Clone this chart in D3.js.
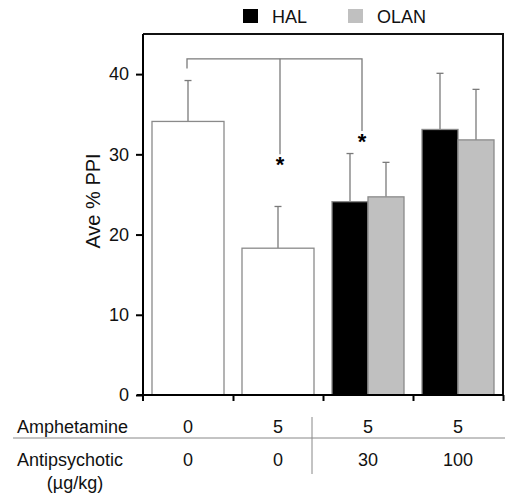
<!DOCTYPE html>
<html>
<head>
<meta charset="utf-8">
<script src="https://cdn.jsdelivr.net/npm/d3@7"></script>
<style>
  body { margin: 0; background: #fff; }
  text { font-family: 'Liberation Sans', Arial, sans-serif; }
</style>
</head>
<body>
<script>
// groups along the x axis
const groups = ['g1', 'g2', 'g3', 'g4'];
const amphetamine = ['0', '5', '5', '5'];
const antipsychotic = ['0', '0', '30', '100'];

// mean and upper error (value at top of whisker)
const vehicleMean = [34.1, 18.3, null, null];
const vehicleErr = [39.2, 23.5, null, null];
const halMean = [null, null, 24.1, 33.1];
const halErr = [null, null, 30.1, 40.1];
const olanMean = [null, null, 24.7, 31.8];
const olanErr = [null, null, 29.0, 38.1];

const yTicks = [0, 10, 20, 30, 40];
const legendNames = ['HAL', 'OLAN'];

const width = 505;
const height = 496;
const margin = {top: 34, right: 2, bottom: 101, left: 143};
const innerW = width - margin.left - margin.right;
const innerH = height - margin.top - margin.bottom;

const svg = d3.select('body').append('svg')
  .attr('width', width)
  .attr('height', height);

const g = svg.append('g')
  .attr('transform', `translate(${margin.left},${margin.top})`);

const x = d3.scaleBand()
  .domain(groups)
  .range([0, innerW])
  .paddingInner(0.2)
  .paddingOuter(0.1);

const xEdge = d3.scaleLinear().domain([0, groups.length]).range([0, innerW]);

const y = d3.scaleLinear().domain([0, 45]).range([innerH, 0]);

const sub = d3.scaleBand().domain(['hal', 'olan']).range([0, x.bandwidth()]);

const bars = [];
groups.forEach((grp, i) => {
  if (vehicleMean[i] != null) {
    bars.push({x: x(grp), w: x.bandwidth(), v: vehicleMean[i], e: vehicleErr[i], fill: '#fff'});
  }
  if (halMean[i] != null) {
    bars.push({x: x(grp) + sub('hal'), w: sub.bandwidth(), v: halMean[i], e: halErr[i], fill: '#000'});
  }
  if (olanMean[i] != null) {
    bars.push({x: x(grp) + sub('olan'), w: sub.bandwidth(), v: olanMean[i], e: olanErr[i], fill: '#c0c0c0'});
  }
});

// error bars (upper only)
g.selectAll('.err')
  .data(bars)
  .join('line')
  .attr('x1', (d) => d.x + d.w / 2)
  .attr('x2', (d) => d.x + d.w / 2)
  .attr('y1', (d) => y(d.v))
  .attr('y2', (d) => y(d.e))
  .attr('stroke', '#7a7a7a')
  .attr('stroke-width', 1.3);

g.selectAll('.cap')
  .data(bars)
  .join('line')
  .attr('x1', (d) => d.x + d.w / 2 - 3.5)
  .attr('x2', (d) => d.x + d.w / 2 + 3.5)
  .attr('y1', (d) => y(d.e))
  .attr('y2', (d) => y(d.e))
  .attr('stroke', '#7a7a7a')
  .attr('stroke-width', 1.3);

g.selectAll('.bar')
  .data(bars)
  .join('rect')
  .attr('x', (d) => d.x)
  .attr('y', (d) => y(d.v))
  .attr('width', (d) => d.w)
  .attr('height', (d) => y(0) - y(d.v))
  .attr('fill', (d) => d.fill)
  .attr('stroke', '#8a8a8a')
  .attr('stroke-width', 1.3);

// significance bracket
const bracketY = y(41.9);
const leftX = x('g1') + x.bandwidth() / 2 - 1;
const midX = x('g2') + x.bandwidth() / 2 + 2;
const rightX = x('g3') + sub('olan') - 6;
const bracket = g.append('g').attr('stroke', '#7a7a7a').attr('stroke-width', 1.3).attr('fill', 'none');
bracket.append('path')
  .attr('d', `M${leftX},${y(40.7)} V${bracketY} H${rightX} V${y(32.9)}`);
bracket.append('line')
  .attr('x1', midX).attr('x2', midX)
  .attr('y1', bracketY).attr('y2', y(30));

g.append('text')
  .attr('x', midX)
  .attr('y', y(30) + 18)
  .attr('text-anchor', 'middle')
  .style('font-size', '22px')
  .style('font-weight', 'bold')
  .text('*');
g.append('text')
  .attr('x', rightX)
  .attr('y', y(32.9) + 18)
  .attr('text-anchor', 'middle')
  .style('font-size', '22px')
  .style('font-weight', 'bold')
  .text('*');

// frame
g.append('path')
  .attr('d', `M0,0 H${innerW} V${innerH}`)
  .attr('fill', 'none')
  .attr('stroke', '#111')
  .attr('stroke-width', 2);

// y axis
const yAxis = g.append('g')
  .call(d3.axisLeft(y).tickValues(yTicks).tickSize(7).tickPadding(7));
yAxis.select('.domain').attr('d', `M0,${innerH + 6}V0`).attr('stroke-width', 2);
yAxis.selectAll('.tick line').attr('stroke-width', 2);
yAxis.selectAll('.tick text')
  .style('font-size', '18px')
  .style('font-family', "'Liberation Sans', Arial, sans-serif")
  .attr('fill', '#111');

// x axis (group boundary ticks)
const xAxis = g.append('g')
  .attr('transform', `translate(0,${innerH})`)
  .call(d3.axisBottom(xEdge).tickValues(d3.range(1, groups.length + 1)).tickSize(6).tickFormat(''));
xAxis.select('.domain').attr('d', `M-6,0H${innerW}`).attr('stroke-width', 2);
xAxis.selectAll('.tick line').attr('stroke-width', 2);

svg.append('text')
  .attr('transform', `translate(100,201) rotate(-90)`)
  .attr('text-anchor', 'middle')
  .style('font-size', '20px')
  .attr('fill', '#111')
  .text('Ave % PPI');

// legend
const legendColors = ['#000', '#c0c0c0'];
const legendX = [243, 348];
legendNames.forEach((name, i) => {
  svg.append('rect')
    .attr('x', legendX[i]).attr('y', 9)
    .attr('width', 15).attr('height', 14)
    .attr('fill', legendColors[i]);
  svg.append('text')
    .attr('x', legendX[i] + 29).attr('y', 23)
    .style('font-size', '18px')
    .attr('fill', '#111')
    .text(name);
});

// treatment table
const tbl = svg.append('g').attr('fill', '#111').style('font-size', '18px');
tbl.append('text').attr('x', 17).attr('y', 433).text('Amphetamine');
tbl.append('text').attr('x', 17).attr('y', 466).text('Antipsychotic');
tbl.append('text').attr('x', 75).attr('y', 489).attr('text-anchor', 'middle').text('(\u00b5g/kg)');

const colX = (grp) => margin.left + x(grp) + x.bandwidth() / 2;
tbl.selectAll('.amph')
  .data(groups)
  .join('text')
  .attr('x', (d) => colX(d))
  .attr('y', 433)
  .attr('text-anchor', 'middle')
  .text((d, i) => amphetamine[i]);
tbl.selectAll('.anti')
  .data(groups)
  .join('text')
  .attr('x', (d) => colX(d))
  .attr('y', 466)
  .attr('text-anchor', 'middle')
  .text((d, i) => antipsychotic[i]);

svg.append('line')
  .attr('x1', 13).attr('x2', width)
  .attr('y1', 438).attr('y2', 438)
  .attr('stroke', '#888').attr('stroke-width', 1);
svg.append('line')
  .attr('x1', 312).attr('x2', 312)
  .attr('y1', 417).attr('y2', 474)
  .attr('stroke', '#888').attr('stroke-width', 1);
</script>
</body>
</html>
